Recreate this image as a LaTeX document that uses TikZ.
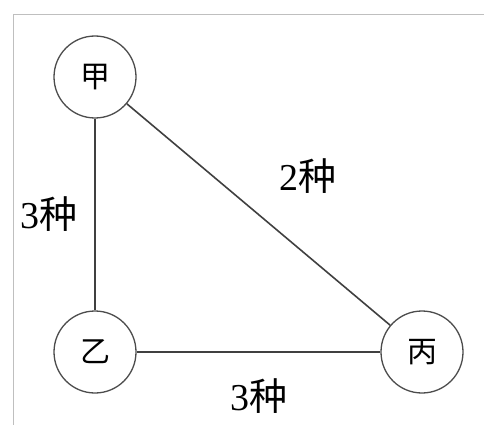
\documentclass[tikz,border=0pt]{standalone}
\usepackage{fontspec}
\setmainfont{Liberation Serif}
\newfontfamily\cjk{Noto Sans CJK SC}
\usetikzlibrary{positioning}

\begin{document}
\begin{tikzpicture}[x=1pt, y=-1pt, auto]
        \tikzstyle{place}=[draw=black!70, circle, line width=1.3pt, minimum size=82pt, inner sep=0pt, font=\cjk\fontsize{30}{30}\selectfont]
        \tikzstyle{count}=[font=\fontsize{38}{38}\selectfont, inner sep=0pt]
        \useasboundingbox (0,0) rectangle (484,425);
        \draw[black!25, line width=1pt] (13,425) -- (13,15) -- (484,15);
        \node[place]    (J) at (95,77)   {甲};
        \node[place]    (Y) at (95,352)  {乙};
        \node[place]    (B) at (422,352) {丙};
        \path[draw=black!75, line width=1.6pt]
        (J) edge	node[count, left=17pt]	{3{\cjk 种}} (Y)
            edge	node[count, anchor=south west, xshift=20pt, yshift=20pt]	{2{\cjk 种}} (B)
        (Y) edge	node[count, below=26pt]	{3{\cjk 种}} (B);
\end{tikzpicture}
\end{document}
